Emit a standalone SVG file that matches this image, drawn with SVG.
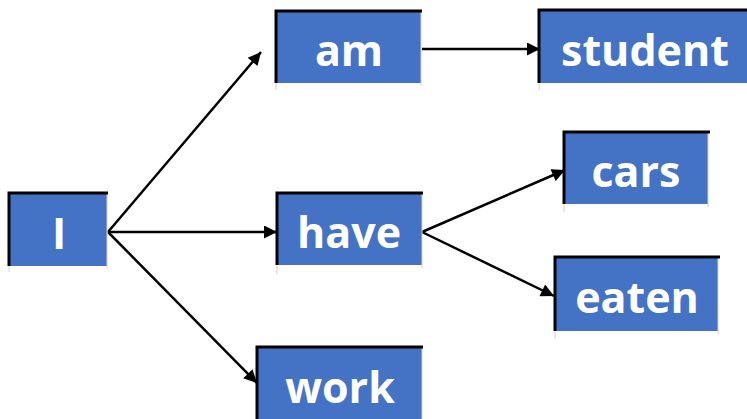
<svg xmlns="http://www.w3.org/2000/svg" width="747" height="419" viewBox="0 0 747 419">
  <style>
    .box { fill: #4472C4; }
    .edge-dark { stroke: #000; stroke-width: 3; fill: none; }
    .edge-light { stroke: #D0D0D0; stroke-width: 1; fill: none; }
    .label { font-family: "Open Sans", "Noto Sans", sans-serif; font-weight: bold; font-size: 43px; fill: #fff; text-anchor: middle; dominant-baseline: central; }
    .conn { stroke: #000; stroke-width: 2.5; fill: none; marker-end: url(#arrow); }
  </style>
  <defs>
    <marker id="arrow" viewBox="0 0 10 10" refX="10" refY="5" markerWidth="6" markerHeight="5.2" markerUnits="strokeWidth" orient="auto">
      <path d="M0,0 L10,5 L0,10 z" fill="#000"/>
    </marker>
  </defs>
  <rect width="747" height="419" fill="#fff"/>

  <g id="connectors">
    <line class="conn" x1="108" y1="232" x2="261" y2="52"/>
    <line class="conn" x1="108" y1="232" x2="277" y2="232"/>
    <line class="conn" x1="108" y1="232" x2="257" y2="383"/>
    <line class="conn" x1="422" y1="49" x2="540" y2="49"/>
    <line class="conn" x1="422" y1="232" x2="565" y2="170"/>
    <line class="conn" x1="422" y1="232" x2="554" y2="296"/>
  </g>

  <g id="node-I">
    <rect class="box" x="9" y="193" width="98" height="73"/>
    <path class="edge-light" d="M107,193 V269 M9,266 V272"/>
    <path class="edge-dark" d="M9,266 V193 H108"/>
    <text class="label" x="59" y="232">I</text>
  </g>
  <g id="node-am">
    <rect class="box" x="276" y="11" width="145" height="72"/>
    <path class="edge-light" d="M421,11 V86 M276,83 V90"/>
    <path class="edge-dark" d="M276,83 V11 H422"/>
    <text class="label" x="349" y="49">am</text>
  </g>
  <g id="node-student">
    <rect class="box" x="539" y="10" width="210" height="73"/>
    <path class="edge-light" d="M539,83 V90"/>
    <path class="edge-dark" d="M539,83 V10 H747"/>
    <text class="label" x="645" y="49">student</text>
  </g>
  <g id="node-have">
    <rect class="box" x="277" y="193" width="145" height="72"/>
    <path class="edge-light" d="M422,193 V268 M277,265 V274"/>
    <path class="edge-dark" d="M277,265 V193 H423"/>
    <text class="label" x="349" y="231">have</text>
  </g>
  <g id="node-cars">
    <rect class="box" x="564" y="132" width="144" height="72"/>
    <path class="edge-light" d="M708,132 V207 M564,204 V212"/>
    <path class="edge-dark" d="M564,204 V132 H710"/>
    <text class="label" x="636" y="170">cars</text>
  </g>
  <g id="node-eaten">
    <rect class="box" x="555" y="257" width="163" height="74"/>
    <path class="edge-light" d="M718,257 V334 M555,331 V339"/>
    <path class="edge-dark" d="M555,331 V257 H720"/>
    <text class="label" x="637" y="296">eaten</text>
  </g>
  <g id="node-work">
    <rect class="box" x="257" y="347" width="165" height="80"/>
    <path class="edge-light" d="M422,347 V419"/>
    <path class="edge-dark" d="M257,420 V347 H423"/>
    <text class="label" x="340" y="386">work</text>
  </g>
</svg>
